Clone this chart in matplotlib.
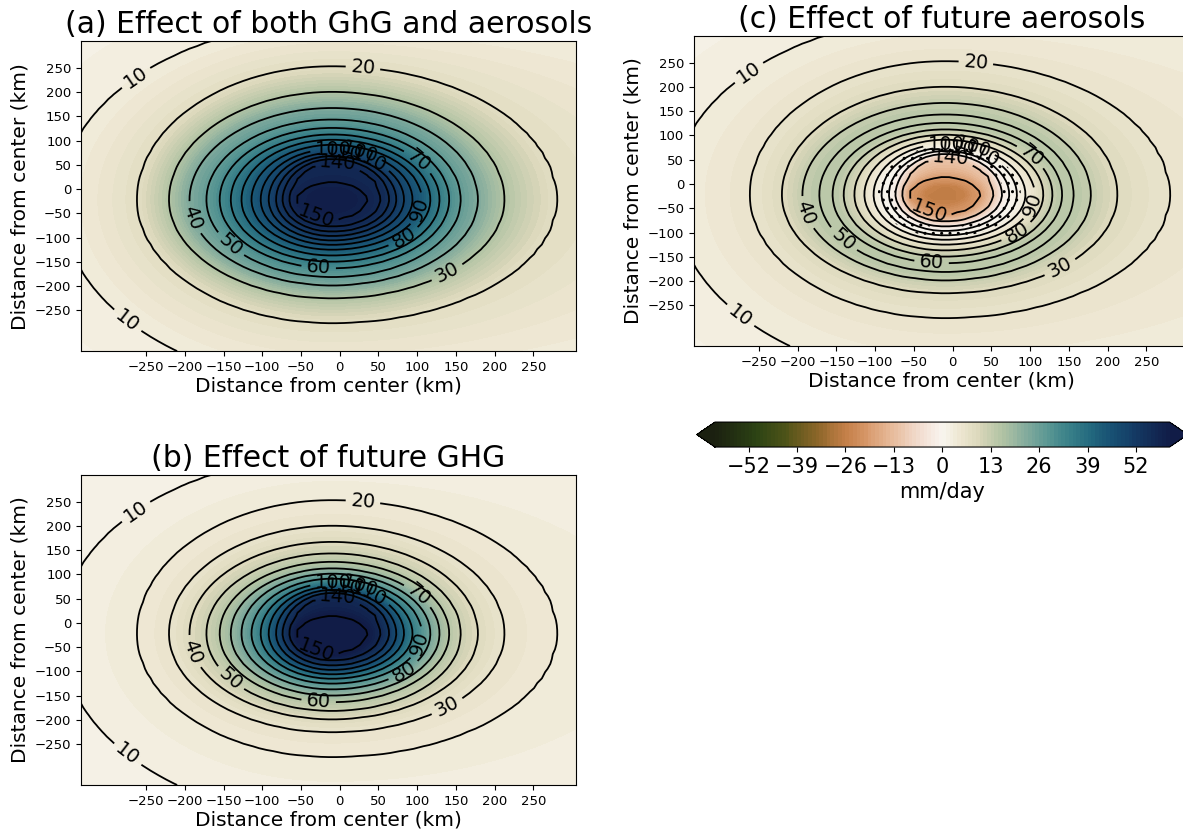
import numpy as np
import matplotlib
matplotlib.use("Agg")
import matplotlib.pyplot as plt
from matplotlib.colors import LinearSegmentedColormap

# precipitation levels of the control storm (mm/day), drawn as black contours
levels = [0, 10, 20, 30, 40, 50, 60, 70, 80, 90, 100, 110, 120, 130, 140, 150, 156]
# distance (km) from the storm centre where each level is crossed
radius_west = [700, 350, 251, 210, 184, 162, 145, 131, 117, 104, 92, 82, 72, 64, 55, 47, 25]
radius_east = [1500, 750, 289, 222, 188, 166, 151, 139, 127, 116, 104, 93, 83, 74, 64, 46, 25]
radius_north = [730, 365, 275, 222, 189, 165, 148, 134, 124, 113, 104, 97, 90, 84, 78, 37, 20]
radius_south = [760, 380, 254, 203, 176, 160, 141, 128, 115, 103, 93, 84, 75, 66, 56, 43, 20]
center_x, center_y = -10, -22

# shaded change (mm/day) found at each of the levels above, per panel
diff_both = [0, 3, 8, 16, 23, 27, 31, 35, 39, 43, 46, 49, 52, 55, 57, 59, 61]
diff_ghg = [0, 2, 4, 6, 9, 12, 15, 19, 24, 29, 35, 41, 47, 52, 57, 62, 66]
diff_aero = [0, 3, 6, 9, 13, 15, 15, 13, 10, 6, 3, 1, 0, -3, -11, -20, -26]

titles = ["(a) Effect of both GhG and aerosols", "(b) Effect of future GHG",
          "(c) Effect of future aerosols"]
ticks_km = [-250, -200, -150, -100, -50, 0, 50, 100, 150, 200, 250]
cbar_ticks = [-52, -39, -26, -13, 0, 13, 26, 39, 52]

# where the contour labels sit in the picture (km)
label_spots = [(-259, 220), (-273, -269), (30, 251), (138, -170), (-185, -57),
               (-138, -108), (-27, -156), (100, 55), (81, -95), (100, -40),
               (-8, 84), (5, 78), (25, 70), (38, 64), (-2, 55), (-27, -29)]

# colour stops of the shading (value, colour)
cmap_values = [-61, -50, -42, -34, -26, -20, -13, -6, 0, 5, 10, 16, 22, 28, 34, 40, 46, 52, 61]
cmap_colors = ['#1b2010', '#2c4314', '#4f5418', '#8a6528', '#c47f48', '#d99a6c', '#e8bea0',
               '#f2ddd0', '#f9f6f1', '#ede6d0', '#dad7ba', '#b2c3a4', '#88ae9e', '#5c9894',
               '#3a8189', '#22687e', '#174f72', '#143a64', '#111c47']

x = np.linspace(-334, 305, 65)
y = np.linspace(-334, 305, 65)
X, Y = np.meshgrid(x, y)

lev = np.array(levels, dtype=float)
dx = X - center_x
dy = Y - center_y
rx = np.where(dx[None] >= 0, np.array(radius_east)[:, None, None], np.array(radius_west)[:, None, None])
ry = np.where(dy[None] >= 0, np.array(radius_north)[:, None, None], np.array(radius_south)[:, None, None])
d = np.sqrt((dx[None] / rx) ** 2 + (dy[None] / ry) ** 2)
n_in = (d < 1).sum(axis=0)
k = np.clip(n_in - 1, 0, len(lev) - 2)
d0 = np.take_along_axis(d, k[None], 0)[0]
d1 = np.take_along_axis(d, k[None] + 1, 0)[0]
P = lev[k] + (lev[k + 1] - lev[k]) * (1 - d0) / (d1 - d0)
P = np.where(n_in == 0, 0, P)
P = np.where(n_in == len(lev), lev[-1], P)

cmap = LinearSegmentedColormap.from_list(
    "tarnlike", [((v + 61) / 122, c) for v, c in zip(cmap_values, cmap_colors)])
cmap.set_under(cmap_colors[0])
cmap.set_over(cmap_colors[-1])
fill_levels = np.arange(-61, 62, 1)

fig = plt.figure(figsize=(11.83, 8.32), dpi=100)
ax_a = fig.add_axes([0.0685, 0.578, 0.4184, 0.3726])
ax_b = fig.add_axes([0.0685, 0.0565, 0.4184, 0.3726])
ax_c = fig.add_axes([0.5866, 0.5841, 0.4184, 0.3726])

for ax, title, diff in zip([ax_a, ax_b, ax_c], titles, [diff_both, diff_ghg, diff_aero]):
    D = np.interp(P, lev, diff)
    cf = ax.contourf(X, Y, D, levels=fill_levels, cmap=cmap, extend='both')
    if diff is diff_aero:
        # stippling where the aerosol change is close to zero near the core
        ax.contourf(X, Y, np.where(P > 80, D, np.nan), levels=[-3, 2],
                    colors='none', hatches=['..'])
        cf_c = cf
    cs = ax.contour(X, Y, P, levels=levels[1:-1], colors='k', linewidths=1.3)
    ax.clabel(cs, inline=True, fontsize=14, fmt='%d', manual=label_spots)
    ax.set_title(title, fontsize=21.5)
    ax.set_xticks(ticks_km)
    ax.set_yticks(ticks_km)
    ax.tick_params(labelsize=9.5)
    ax.set_xlabel("Distance from center (km)", fontsize=14.5, labelpad=2)
    ax.set_ylabel("Distance from center (km)", fontsize=14.5)
    ax.set_xlim(x[0], x[-1])
    ax.set_ylim(y[0], y[-1])

cax = fig.add_axes([0.589, 0.4627, 0.415, 0.030])
cb = fig.colorbar(cf_c, cax=cax, orientation='horizontal', extendfrac=0.04, ticks=cbar_ticks)
cb.ax.tick_params(labelsize=15)
cb.set_label("mm/day", fontsize=15)

fig.savefig("out.png", dpi=100)
